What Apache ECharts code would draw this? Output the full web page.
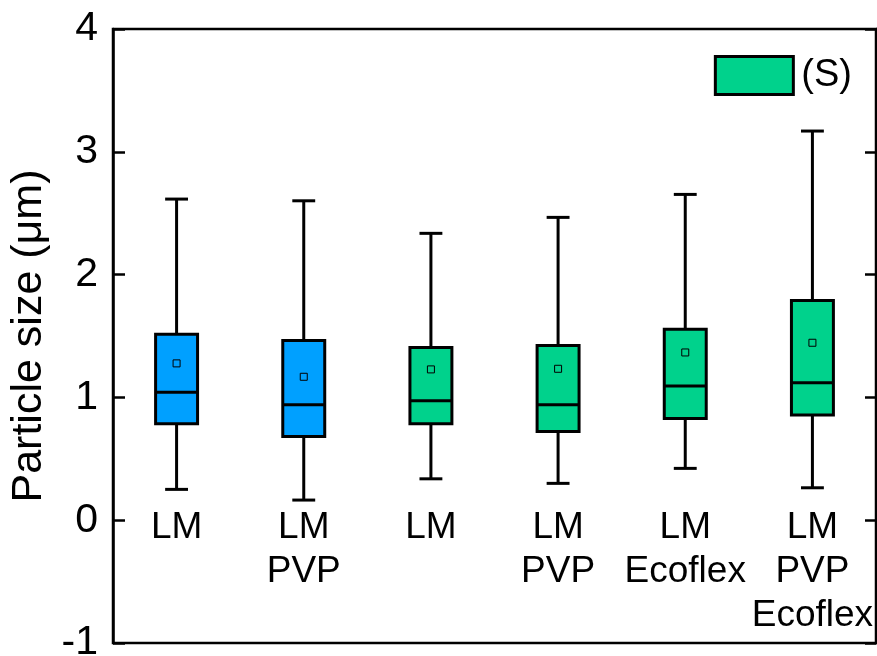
<!DOCTYPE html>
<html>
<head>
<meta charset="utf-8">
<script src="https://cdn.jsdelivr.net/npm/echarts@6/dist/echarts.min.js"></script>
<style>html,body{margin:0;padding:0;background:#fff}#c{width:877px;height:656px}</style>
</head>
<body>
<div id="c"></div>
<script>
var categories = ['LM', 'LM\nPVP', 'LM', 'LM\nPVP', 'LM\nEcoflex', 'LM\nPVP\nEcoflex'];
var yTicks = [-1, 0, 1, 2, 3, 4];
// [min, Q1, median, Q3, max, mean]
var lmBlue      = [0.251, 0.785, 1.041, 1.515, 2.615, 1.277];
var lmPvpBlue   = [0.164, 0.682, 0.940, 1.464, 2.601, 1.168];
var lmGreen     = [0.337, 0.785, 0.972, 1.407, 2.336, 1.228];
var lmPvpGreen  = [0.300, 0.723, 0.940, 1.423, 2.466, 1.233];
var lmEcoGreen  = [0.422, 0.829, 1.092, 1.554, 2.653, 1.366];
var lmPvpEcoGreen = [0.264, 0.856, 1.119, 1.790, 3.169, 1.445];

var blueData = [[0].concat(lmBlue), [1].concat(lmPvpBlue)];
var greenData = [[2].concat(lmGreen), [3].concat(lmPvpGreen), [4].concat(lmEcoGreen), [5].concat(lmPvpEcoGreen)];

function renderBox(params, api) {
  var x = api.value(0);
  var pMin = api.coord([x, api.value(1)]);
  var pQ1 = api.coord([x, api.value(2)]);
  var pMed = api.coord([x, api.value(3)]);
  var pQ3 = api.coord([x, api.value(4)]);
  var pMax = api.coord([x, api.value(5)]);
  var pMean = api.coord([x, api.value(6)]);
  var band = api.size([1, 0])[0];
  var bw = band * 0.33;
  var cw = band * 0.18;
  var cx = pMed[0];
  var color = api.visual('color');
  var ls = {stroke: '#000', lineWidth: 3};
  return {
    type: 'group',
    children: [
      {type: 'line', shape: {x1: cx, y1: pQ3[1], x2: cx, y2: pMax[1]}, style: ls},
      {type: 'line', shape: {x1: cx, y1: pQ1[1], x2: cx, y2: pMin[1]}, style: ls},
      {type: 'line', shape: {x1: cx - cw / 2, y1: pMax[1], x2: cx + cw / 2, y2: pMax[1]}, style: ls},
      {type: 'line', shape: {x1: cx - cw / 2, y1: pMin[1], x2: cx + cw / 2, y2: pMin[1]}, style: ls},
      {type: 'rect', shape: {x: cx - bw / 2, y: pQ3[1], width: bw, height: pQ1[1] - pQ3[1]},
        style: {fill: color, stroke: '#000', lineWidth: 3}},
      {type: 'line', shape: {x1: cx - bw / 2, y1: pMed[1], x2: cx + bw / 2, y2: pMed[1]}, style: ls},
      {type: 'rect', shape: {x: pMean[0] - 3.5, y: pMean[1] - 3.5, width: 7, height: 7},
        style: {fill: color, stroke: '#000', lineWidth: 1}}
    ]
  };
}

var chart = echarts.init(document.getElementById('c'), null, {renderer: 'canvas'});
var font = '"Liberation Sans", Arial, sans-serif';
chart.setOption({
  animation: false,
  backgroundColor: '#fff',
  textStyle: {fontFamily: font},
  grid: {left: 113, top: 29, right: 1, bottom: 13, containLabel: false, outerBoundsMode: 'none',
    show: true, borderColor: '#000', borderWidth: 2.5, backgroundColor: 'transparent'},
  legend: {
    data: ['(S)'],
    right: 20, top: 50,
    icon: 'rect',
    itemWidth: 78, itemHeight: 38,
    itemGap: 8,
    itemStyle: {color: '#00D28C', borderColor: '#000', borderWidth: 3},
    textStyle: {fontSize: 38, color: '#000', fontFamily: font, padding: [0, 0, 0, 3]}
  },
  xAxis: {
    type: 'category',
    data: categories,
    boundaryGap: true,
    position: 'bottom',
    offset: -123,
    axisLine: {show: false, onZero: false},
    axisTick: {show: false},
    splitLine: {show: false},
    axisLabel: {
      show: true, interval: 0, margin: -14,
      fontSize: 37, lineHeight: 44, color: '#000', fontFamily: font,
      verticalAlign: 'top'
    }
  },
  yAxis: [{
    type: 'value', min: -1, max: 4, interval: 1,
    name: 'Particle size (\u03bcm)',
    nameLocation: 'middle', nameGap: 62,
    nameTextStyle: {fontSize: 43, color: '#000', fontFamily: font},
    axisLine: {show: true, lineStyle: {color: '#000', width: 2.5}},
    axisTick: {show: true, inside: true, length: 12, lineStyle: {color: '#000', width: 2.5}},
    axisLabel: {margin: 15, fontSize: 41, color: '#000', fontFamily: font},
    splitLine: {show: false}
  }, {
    type: 'value', min: -1, max: 4, interval: 1, position: 'right',
    axisLine: {show: true, lineStyle: {color: '#000', width: 2.5}},
    axisTick: {show: true, inside: true, length: 11, lineStyle: {color: '#000', width: 2.5}},
    axisLabel: {show: false},
    splitLine: {show: false}
  }],
  series: [{
    name: 'LM blue', type: 'custom', renderItem: renderBox,
    itemStyle: {color: '#00A0FF'},
    encode: {x: 0, y: [1, 2, 3, 4, 5, 6]},
    data: blueData
  }, {
    name: '(S)', type: 'custom', renderItem: renderBox,
    itemStyle: {color: '#00D28C'},
    encode: {x: 0, y: [1, 2, 3, 4, 5, 6]},
    data: greenData
  }]
});
</script>
</body>
</html>
